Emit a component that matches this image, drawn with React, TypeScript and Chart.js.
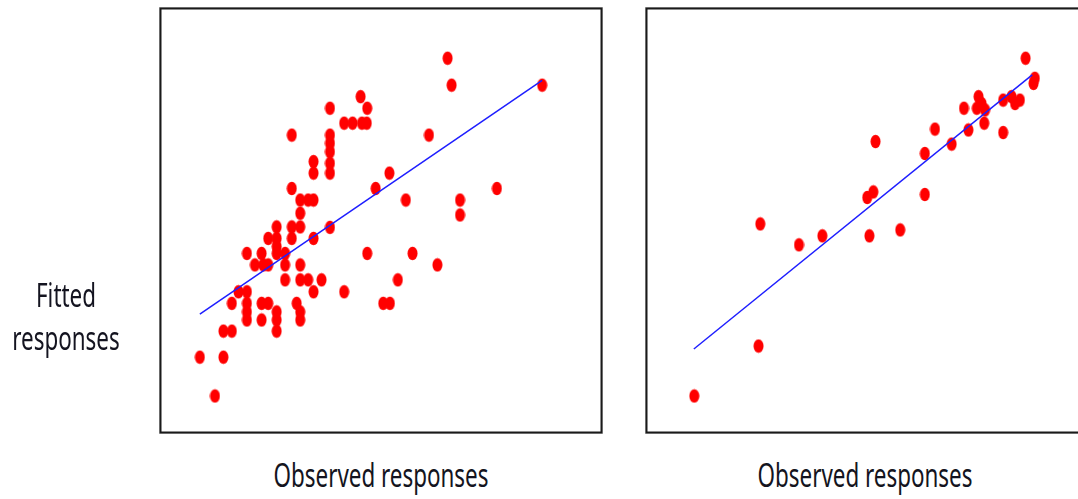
import React, { useEffect, useRef } from "react";
import { Chart, registerables } from "chart.js";

Chart.register(...registerables);

// Left panel: observed (x) vs fitted (y) responses
const leftObserved = [
  65.0, 65.9, 86.3, 45.4, 38.5, 46.9,
  41.7, 43.6, 45.7, 46.8,
  29.9, 38.5, 38.5, 38.5, 60.8,
  34.8, 34.8, 38.5, 38.5, 51.9,
  29.9, 48.8, 76.1,
  31.8, 33.6, 34.8, 55.6, 67.8, 67.8, 31.8,
  31.8, 29.9, 26.5, 38.5,
  24.6, 26.5, 29.9, 34.8, 26.5,
  19.8, 23.1, 26.5, 28.4, 46.9, 57.1,
  21.6, 23.5, 24.6, 28.4, 31.8, 62.7,
  28.4, 31.8, 33.6, 36.6, 53.8,
  17.9, 19.8, 34.8, 41.7,
  16.4, 19.8, 23.1, 24.6, 31.0, 50.5, 52.0,
  19.8, 26.5, 31.8,
  19.8, 23.1, 26.5, 31.8,
  14.5, 16.4, 26.5,
  9.2, 14.5, 12.6,
];
const leftFitted = [
  88.0, 81.7, 81.7, 79.0, 76.3, 76.3,
  72.8, 72.8, 72.8, 72.8,
  70.0, 70.0, 68.1, 66.1, 70.0,
  63.8, 61.1, 63.4, 61.1, 61.1,
  57.5, 57.5, 57.5,
  54.8, 54.8, 54.8, 54.8, 54.8, 51.3, 51.7,
  48.5, 48.5, 48.5, 48.4,
  45.8, 45.8, 45.8, 45.8, 43.9,
  42.3, 42.3, 42.3, 42.3, 42.3, 42.3,
  39.6, 39.6, 39.6, 39.6, 39.6, 39.6,
  36.1, 36.1, 36.1, 36.1, 36.1,
  33.3, 33.3, 33.3, 33.3,
  30.6, 30.6, 30.6, 30.6, 30.6, 30.6, 30.6,
  28.6, 28.6, 28.6,
  26.7, 26.7, 26.7, 26.7,
  24.1, 24.1, 24.1,
  18.0, 18.0, 8.9,
];
const leftFitX = [9.2, 86.3];
const leftFitY = [28.1, 82.8];

// Right panel
const rightObserved = [
  86.5, 88.6, 88.3, 75.8, 81.4, 83.3, 85.2, 84.1,
  72.5, 75.4, 77.3, 76.5, 77.1, 73.5, 65.9, 81.4,
  69.7, 52.4, 63.6, 51.9, 50.5, 63.6,
  26.2, 40.3, 51.0, 58.0, 35.0, 25.8, 11.2,
];
const rightFitted = [
  88.0, 83.3, 82.1, 79.0, 78.2, 79.0, 78.2, 77.4,
  76.3, 76.3, 75.9, 77.4, 72.8, 71.2, 71.4, 70.6,
  67.9, 68.5, 65.7, 56.7, 55.4, 56.1,
  49.2, 46.4, 46.4, 47.8, 44.3, 20.6, 8.9,
];
const rightFitX = [11.1, 88.0];
const rightFitY = [19.9, 84.1];

const xAxisLabel = "Observed responses";
const yAxisLabelLines = ["Fitted", "responses"];

function makeDot(): HTMLCanvasElement {
  const c = document.createElement("canvas");
  c.width = 11;
  c.height = 15;
  const ctx = c.getContext("2d")!;
  ctx.fillStyle = "#ff0000";
  ctx.beginPath();
  ctx.ellipse(5.5, 7.5, 5, 6.8, 0, 0, Math.PI * 2);
  ctx.fill();
  return c;
}

const frameBorder = {
  id: "frameBorder",
  afterDraw(chart: any) {
    const { ctx, chartArea } = chart;
    ctx.save();
    ctx.strokeStyle = "rgba(0,0,0,0.25)";
    ctx.lineWidth = 1;
    ctx.strokeRect(chartArea.left + 0.5, chartArea.top + 0.5, chartArea.right - chartArea.left - 1, chartArea.bottom - chartArea.top - 1);
    ctx.strokeStyle = "#1a1a1a";
    ctx.lineWidth = 2;
    ctx.strokeRect(chartArea.left + 1.5, chartArea.top + 1.5, chartArea.right - chartArea.left - 3, chartArea.bottom - chartArea.top - 3);
    ctx.restore();
  },
};

function Panel(props: { xs: number[]; ys: number[]; fx: number[]; fy: number[]; left: number; width: number }) {
  const ref = useRef<HTMLCanvasElement>(null);
  useEffect(() => {
    const dot = makeDot();
    const pts = props.xs.map((x, i) => ({ x, y: props.ys[i] }));
    const fit = props.fx.map((x, i) => ({ x, y: props.fy[i] }));
    const chart = new Chart(ref.current!, {
      type: "scatter",
      data: {
        datasets: [
          {
            data: fit,
            showLine: true,
            borderColor: "rgb(30,30,255)",
            borderWidth: 1.5,
            pointRadius: 0,
            fill: false,
          },
          {
            data: pts,
            pointStyle: dot as any,
            pointRadius: 5,
            backgroundColor: "#ff0000",
            borderWidth: 0,
          },
        ],
      },
      options: {
        animation: false,
        responsive: false,
        maintainAspectRatio: false,
        layout: { padding: 0, autoPadding: false },
        plugins: { legend: { display: false }, tooltip: { enabled: false } },
        scales: {
          x: { type: "linear", display: false, min: 0, max: 100 },
          y: { type: "linear", display: false, min: 0, max: 100 },
        },
      },
      plugins: [frameBorder],
    });
    return () => chart.destroy();
  }, []);
  return (
    <canvas
      ref={ref}
      width={props.width}
      height={427}
      style={{ position: "absolute", left: props.left, top: 7, width: props.width, height: 427 }}
    />
  );
}

const textStyle: React.CSSProperties = {
  position: "absolute",
  fontFamily: "'Noto Sans', sans-serif",
  fontSize: 32,
  color: "#141420",
  whiteSpace: "nowrap",
  textAlign: "center",
  width: 400,
  transform: "scaleX(0.7)",
  transformOrigin: "center",
};

export default function App() {
  return (
    <div style={{ position: "fixed", left: 0, top: 0, width: 1078, height: 499, overflow: "hidden", background: "#fff" }}>
      <Panel xs={leftObserved} ys={leftFitted} fx={leftFitX} fy={leftFitY} left={159} width={444} />
      <Panel xs={rightObserved} ys={rightFitted} fx={rightFitX} fy={rightFitY} left={645} width={440} />
      <div style={{ ...textStyle, left: 66 - 200, top: 273, lineHeight: "43px" }}>
        {yAxisLabelLines[0]}
        <br />
        {yAxisLabelLines[1]}
      </div>
      <div style={{ ...textStyle, left: 381 - 200, top: 459, lineHeight: "32px" }}>{xAxisLabel}</div>
      <div style={{ ...textStyle, left: 865 - 200, top: 459, lineHeight: "32px" }}>{xAxisLabel}</div>
    </div>
  );
}
